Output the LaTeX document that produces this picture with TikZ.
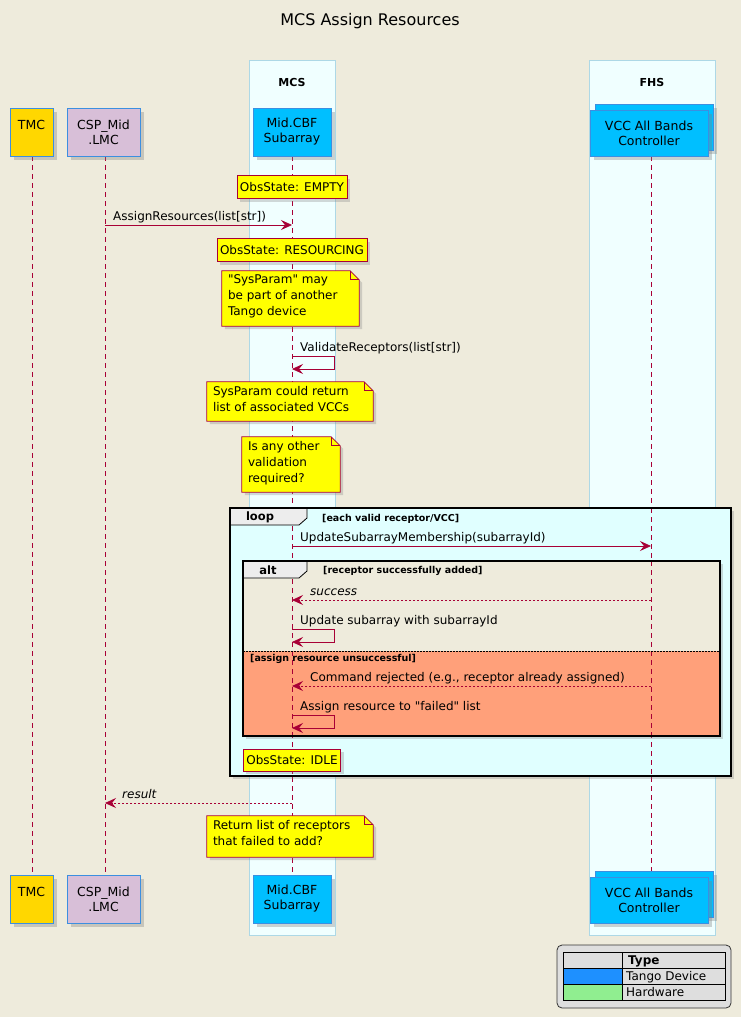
\documentclass[tikz,border=0pt]{standalone}
\usepackage{fontspec}
\setmainfont{DejaVu Sans}[Ligatures=TeXOff]
\usetikzlibrary{arrows.meta,shadows}
\definecolor{bg}{HTML}{EEEBDC}
\definecolor{ll}{HTML}{A80036}
\definecolor{boxb}{HTML}{ADD8E6}
\definecolor{boxf}{HTML}{F0FFFF}
\definecolor{bord}{HTML}{3C8FE0}
\definecolor{salmon}{HTML}{FFA07A}
\definecolor{lcyan}{HTML}{E0FFFF}
\definecolor{dodger}{HTML}{1E90FF}
\definecolor{lgreen}{HTML}{90EE90}
\definecolor{thistle}{HTML}{D8BFD8}
\definecolor{gold}{HTML}{FFD700}
\definecolor{sky}{HTML}{00BFFF}
\definecolor{ylw}{HTML}{FFFF00}
\newcommand{\dogear}[2]{%
  \fill[ylw,drop shadow={shadow xshift=3pt,shadow yshift=-3pt,opacity=.3}] (#1.north west) -- ([xshift=-9pt]#1.north east) -- ([yshift=-9pt]#1.north east) -- (#1.south east) -- (#1.south west) -- cycle;
  \draw[ll,line width=.7pt] (#1.north west) -- ([xshift=-9pt]#1.north east) -- ([yshift=-9pt]#1.north east) -- (#1.south east) -- (#1.south west) -- cycle;
  \draw[ll,line width=.7pt] ([xshift=-9pt]#1.north east) |- ([yshift=-9pt]#1.north east);
  \node[notetxt,anchor=north west] (#1t) at ([xshift=6pt,yshift=-4pt]#1.north west) {#2};}
\begin{document}
\begin{tikzpicture}[x=1pt,y=-1pt,
  part/.style={draw=bord,line width=1pt,minimum height=48pt,align=center,font=\fontsize{12.5}{15}\selectfont,inner sep=2pt,drop shadow={shadow xshift=4pt,shadow yshift=-4pt,opacity=.35}},
  state/.style={draw=ll,fill=ylw,line width=.7pt,font=\fontsize{12}{14}\selectfont,inner sep=3pt,minimum height=23pt,drop shadow={shadow xshift=3pt,shadow yshift=-3pt,opacity=.3}},
  note/.style={inner sep=0pt},
  notetxt/.style={inner sep=0pt,align=left,font=\fontsize{12}{16}\selectfont},
  msg/.style={ll,line width=.8pt,-{Stealth[length=11pt,width=10pt,inset=4pt]}},
  ret/.style={msg,dash pattern=on 2pt off 2pt},
  lbl/.style={font=\fontsize{12}{14}\selectfont,anchor=base west,inner sep=0pt},
  life/.style={ll,line width=.8pt,dash pattern=on 5pt off 4pt},
  frame/.style={line width=2pt,black},
  cond/.style={font=\bfseries\fontsize{9.5}{11}\selectfont,anchor=base west,inner sep=0pt}]
\fill[bg] (0,0) rectangle (741,1017);
\useasboundingbox (0,0) rectangle (741,1017);
\node[font=\fontsize{16}{18}\selectfont] (title) at (370,21) {MCS Assign Resources};
% boxes
\draw[boxb,fill=boxf] (249,60) rectangle (335,935);
\draw[boxb,fill=boxf] (589,60) rectangle (715,935);
\node[font=\bfseries\fontsize{11}{12}\selectfont] (mcs) at (292,82) {MCS};
\node[font=\bfseries\fontsize{11}{12}\selectfont] (fhs) at (652,82) {FHS};
% lifelines
\coordinate (tmcT) at (32,156); \coordinate (tmcB) at (32,875);
\coordinate (lmcT) at (105,156); \coordinate (lmcB) at (105,875);
\coordinate (cbfT) at (292,156); \coordinate (cbfB) at (292,875);
\coordinate (vccT) at (651,156); \coordinate (vccB) at (651,875);
\draw[life] (tmcT) -- (tmcB);
\draw[life] (lmcT) -- (lmcB);
\draw[life] (cbfT) -- (cbfB);
\draw[life] (vccT) -- (vccB);
% participants
\foreach \y/\s in {132/t,899/b}{
  \node[part,fill=gold,minimum width=43pt] (tmc\s) at (31.5,\y) {};
  \node[font=\fontsize{12.5}{15}\selectfont,anchor=base] (tmcl\s) at (31.5,\y-2.5) {TMC};
  \node[part,fill=thistle,minimum width=73pt] (lmc\s) at (103.5,\y) {CSP\_Mid\\.LMC};
  \node[part,fill=sky,minimum width=78pt] (cbf\s) at (292,\y) {Mid.CBF\\Subarray};
}
\foreach \y/\s in {132/t,899/b}{
  \draw[bord,line width=1pt,fill=sky,drop shadow={shadow xshift=4pt,shadow yshift=-4pt,opacity=.35}] (595,\y-28) rectangle (713,\y+18);
  \node[part,fill=sky,minimum width=118pt,minimum height=46pt] (vcc\s) at (649,\y+1) {VCC All Bands\\Controller};
}
% notes and messages
\node[state] (n1) at (292,187) {ObsState: EMPTY};
\coordinate (m1a) at (105,225); \coordinate (m1b) at (292,225);
\draw[msg] (m1a) -- (m1b);
\node[lbl] (l1) at (113,220) {AssignResources(list[str])};
\node[state] (n2) at (292,250) {ObsState: RESOURCING};
\node[note,minimum width=137pt,minimum height=55pt] (n3) at (290.5,298.5) {};
\dogear{n3}{"SysParam" may\\be part of another\\Tango device}
\coordinate (s1) at (292,356); \coordinate (s1r) at (334,356); \coordinate (s1e) at (292,369);
\draw[msg] (s1) -- (s1r) |- (s1e);
\node[lbl] (l2) at (300,351) {ValidateReceptors(list[str])};
\node[note,minimum width=166pt,minimum height=39pt] (n4) at (290,401.5) {};
\dogear{n4}{SysParam could return\\list of associated VCCs}
\node[note,minimum width=98pt,minimum height=55pt] (n5) at (291,464.5) {};
\dogear{n5}{Is any other\\validation\\required?}
% loop frame
\fill[lcyan,drop shadow={shadow xshift=3pt,shadow yshift=-3pt,opacity=.3}] (230,508) rectangle (731,776);
\draw[life] (292,508) -- (292,776);
\draw[life] (651,508) -- (651,776);
\draw[black,fill=black!7,line width=.8pt] (230,508) -- (307,508) -- (307,518) -- (299,525) -- (230,525) -- cycle;
\node[font=\bfseries\fontsize{11.5}{13}\selectfont] (loop) at (260,517) {loop};
\node[cond] (c1) at (322,521) {[each valid receptor/VCC]};
\coordinate (m2a) at (292,546); \coordinate (m2b) at (651,546);
\draw[msg] (m2a) -- (m2b);
\node[lbl] (l3) at (300,541) {UpdateSubarrayMembership(subarrayId)};
% alt frame
\fill[bg,drop shadow={shadow xshift=3pt,shadow yshift=-3pt,opacity=.3}] (243,561) rectangle (720,736);
\fill[salmon] (243,651) rectangle (720,736);
\draw[life] (292,561) -- (292,736);
\draw[life] (651,561) -- (651,736);
\draw[black,fill=black!7,line width=.8pt] (243,561) -- (307,561) -- (307,571) -- (299,578) -- (243,578) -- cycle;
\node[font=\bfseries\fontsize{11.5}{13}\selectfont] (alt) at (268,570) {alt};
\node[cond] (c2) at (323,573) {[receptor successfully added]};
\draw[black,line width=.8pt,dash pattern=on 1.5pt off 1.5pt] (243,651) -- (720,651);
\node[cond] (c3) at (250,661) {[assign resource unsuccessful]};
\coordinate (m3a) at (651,600); \coordinate (m3b) at (292,600);
\draw[ret] (m3a) -- (m3b);
\node[lbl,font=\itshape\fontsize{12}{14}\selectfont] (l4) at (310,595) {success};
\coordinate (s2) at (292,629); \coordinate (s2r) at (334,629); \coordinate (s2e) at (292,642);
\draw[msg] (s2) -- (s2r) |- (s2e);
\node[lbl] (l5) at (300,624) {Update subarray with subarrayId};
\coordinate (m4a) at (651,686); \coordinate (m4b) at (292,686);
\draw[ret] (m4a) -- (m4b);
\node[lbl] (l6) at (310,681) {Command rejected (e.g., receptor already assigned)};
\coordinate (s3) at (292,715); \coordinate (s3r) at (334,715); \coordinate (s3e) at (292,728);
\draw[msg] (s3) -- (s3r) |- (s3e);
\node[lbl] (l7) at (300,710) {Assign resource to "failed" list};
\draw[frame] (243,561) rectangle (720,736);
\node[state,minimum height=22pt] (n6) at (292,760) {ObsState: IDLE};
\draw[frame] (230,508) rectangle (731,776);
% result
\coordinate (m5a) at (292,803); \coordinate (m5b) at (105,803);
\draw[ret] (m5a) -- (m5b);
\node[lbl,font=\itshape\fontsize{12}{14}\selectfont] (l8) at (122,798) {result};
\node[note,minimum width=166pt,minimum height=41pt] (n7) at (290,836.5) {};
\dogear{n7}{Return list of receptors\\that failed to add?}
% legend
\draw[black!80,fill=black!13,rounded corners=5pt,line width=.8pt] (557,945) rectangle (731,1008);
\fill[dodger] (563,968) rectangle (622,984);
\fill[lgreen] (563,984) rectangle (622,1000);
\draw[black,line width=.8pt] (563,952) rectangle (725,1000);
\draw[black,line width=.8pt] (563,968) -- (725,968) (563,984) -- (725,984) (622,952) -- (622,1000);
\node[lbl,font=\bfseries\fontsize{12}{14}\selectfont] (lg0) at (628,964) {Type};
\node[lbl] (lg1) at (626,980) {Tango Device};
\node[lbl] (lg2) at (626,996) {Hardware};
\end{tikzpicture}
\end{document}
